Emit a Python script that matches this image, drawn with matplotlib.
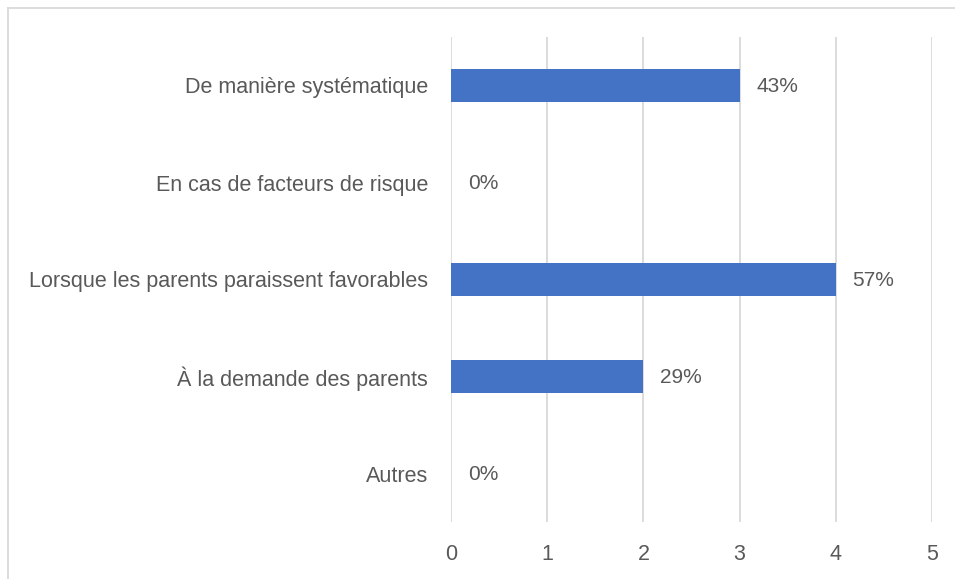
import matplotlib.pyplot as plt
from matplotlib.lines import Line2D

categories = ["De manière systématique", "En cas de facteurs de risque",
              "Lorsque les parents paraissent favorables", "À la demande des parents", "Autres"]
counts = [3, 0, 4, 2, 0]
pct_labels = ["43%", "0%", "57%", "29%", "0%"]

BAR_COLOR = "#4472C4"
TEXT_COLOR = "#595959"
GRID_COLOR = "#D9D9D9"

plt.rcParams['font.family'] = ['Liberation Sans', 'DejaVu Sans']

fig = plt.figure(figsize=(9.55, 5.79), dpi=100)
ax = fig.add_axes([451 / 955, 1 - 522 / 579, 481 / 955, 485 / 579])

ypos = list(range(len(categories)))
ax.barh(ypos, counts, height=0.35, color=BAR_COLOR, zorder=3)

for y, v, lab in zip(ypos, counts, pct_labels):
    ax.annotate(lab, (v, y), xytext=(12, -1), textcoords="offset points",
                va="center", ha="left", fontsize=15, color=TEXT_COLOR)

ax.set_xlim(0, 5)
ax.set_ylim(len(categories) - 0.5, -0.5)
ax.set_xticks(range(6))
ax.set_yticks(ypos)
ax.set_yticklabels(categories)
ax.tick_params(axis="both", length=0, labelsize=15.5, colors=TEXT_COLOR)
ax.tick_params(axis="y", pad=16.5)
ax.tick_params(axis="x", pad=16)
ax.grid(axis="x", color=GRID_COLOR, linewidth=1.3, zorder=0)
for s in ax.spines.values():
    s.set_visible(False)

# outer chart border (left and top only visible)
fig.add_artist(Line2D([7.5 / 955, 7.5 / 955], [0, 1 - 8 / 579], color=GRID_COLOR, linewidth=1.3,
                      transform=fig.transFigure))
fig.add_artist(Line2D([7.5 / 955, 1], [1 - 8 / 579, 1 - 8 / 579], color=GRID_COLOR, linewidth=1.3,
                      transform=fig.transFigure))

fig.savefig("out.png", dpi=100)
